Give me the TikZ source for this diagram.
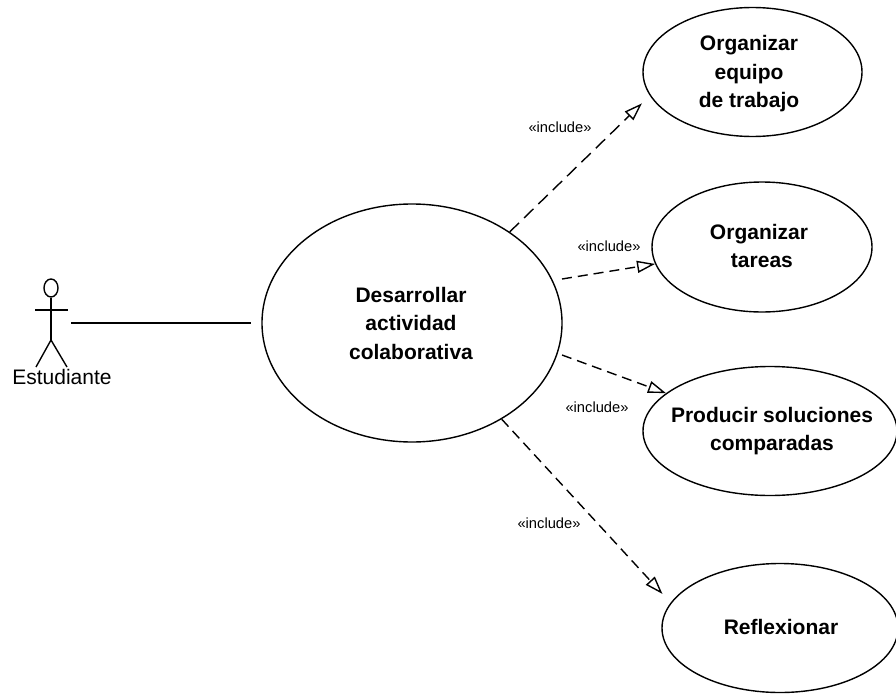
\documentclass[tikz,border=0pt]{standalone}
\usepackage{fontspec}
\setmainfont{Liberation Sans}
\usetikzlibrary{arrows.meta,shapes.geometric}

\begin{document}
\begin{tikzpicture}[
	x=1pt,y=-1pt,
	usecase/.style={ellipse,draw,line width=1.4pt,inner sep=0pt},
	casetext/.style={align=center,inner sep=0pt,font=\fontsize{21}{28.5}\selectfont\bfseries},
	stereo/.style={inner sep=0pt,font=\fontsize{14.7}{17}\selectfont},
	limb/.style={line width=1.4pt},
	to/.style={-{Triangle[open,length=18pt,width=12pt,line width=1.4pt]},dash pattern=on 10pt off 6pt,line width=1.4pt}]
\useasboundingbox (0,0) rectangle (896,693);

\node[usecase,minimum width=300pt,minimum height=238pt] (desarrollar) at (412,323) {};
\node[usecase,minimum width=219pt,minimum height=129pt] (equipo) at (752.5,72) {};
\node[usecase,minimum width=220pt,minimum height=130pt] (tareas) at (762,247) {};
\node[usecase,minimum width=254pt,minimum height=129pt] (soluciones) at (770,431) {};
\node[usecase,minimum width=236pt,minimum height=129pt] (reflexionar) at (780,628) {};

\node[casetext] (desarrollartxt) at (411,323) {Desarrollar\\actividad~\\colaborativa};
\node[casetext] (equipotxt) at (749,74) {Organizar~\\equipo~\\de trabajo};
\node[casetext] (tareastxt) at (759,246) {Organizar\\~tareas};
\node[casetext] (solucionestxt) at (772,431) {Producir soluciones\\comparadas};
\node[casetext] (reflexionartxt) at (781,627) {Reflexionar};

% actor
\node[ellipse,draw,line width=1.4pt,inner sep=0pt,minimum width=14pt,minimum height=18pt] (head) at (51,288) {};
\coordinate (hip) at (51,340);
\coordinate (handl) at (35,310);
\coordinate (handr) at (68,310);
\coordinate (footl) at (36,367);
\coordinate (footr) at (67,367);
\coordinate (hand) at (71,323);
\draw[limb] (head) -- (hip);
\draw[limb] (handl) -- (handr);
\draw[limb] (footl) -- (hip) -- (footr);
\node[inner sep=0pt,font=\fontsize{21}{25}\selectfont] (estudiante) at (62,377) {Estudiante};

\draw[limb,shorten >=10pt] (hand) -- (desarrollar);

% the two middle arrows leave a gap to the big ellipse
\coordinate (starttareas) at (562,279);
\coordinate (startsoluciones) at (562,355);

\draw[to,dash pattern=on 13pt off 7pt,shorten >=11pt] (desarrollar.43.5) -- (equipo.193.5);
\draw[to] (starttareas) -- (tareas.189.5);
\draw[to] (startsoluciones) -- (soluciones.160);
\draw[to,shorten >=12pt] (desarrollar.-47.5) -- (reflexionar.167.6);

\node[stereo] (include1) at (560,127) {«include»};
\node[stereo] (include2) at (609,246) {«include»};
\node[stereo] (include3) at (597,407) {«include»};
\node[stereo] (include4) at (549,523) {«include»};

\end{tikzpicture}
\end{document}
